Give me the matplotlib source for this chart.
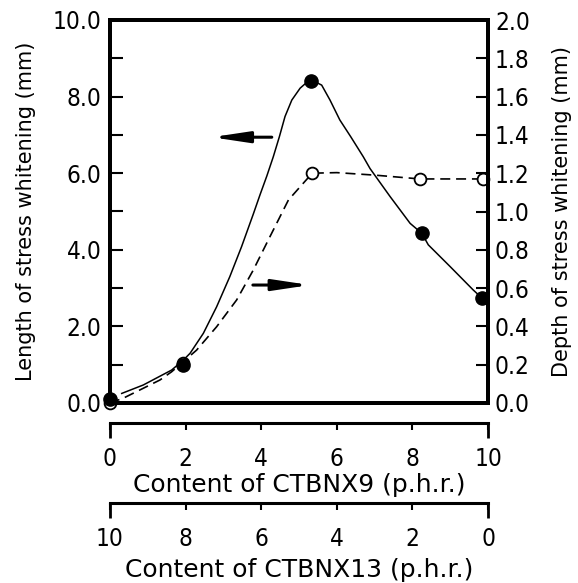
import numpy as np
import matplotlib
matplotlib.use('Agg')
import matplotlib.pyplot as plt
from matplotlib import font_manager as fm

# measured points (left axis: length, right axis: depth)
x_ctbnx9 = [0.0, 1.94, 5.32, 8.25, 9.83]
length_mm = [0.1, 1.0, 8.4, 4.43, 2.75]
x_depth = [0.0, 1.94, 5.35, 8.2, 9.88]
depth_mm = [0.0, 0.21, 1.2, 1.168, 1.172]

# hand drawn curves
solid_x = [0.31, 0.88, 1.63, 1.94, 2.12, 2.47, 2.82, 3.17, 3.48, 3.79, 3.97, 4.15, 4.32, 4.48,
           4.63, 4.81, 5.03, 5.18, 5.32, 5.46, 5.6, 5.82, 6.08, 6.37, 6.7, 6.88, 7.41, 7.94,
           8.25, 8.42, 9.0, 9.61, 9.83]
solid_y = [0.25, 0.47, 0.86, 1.12, 1.3, 1.82, 2.51, 3.3, 4.08, 4.93, 5.44, 5.93, 6.43, 6.95,
           7.48, 7.91, 8.22, 8.35, 8.4, 8.37, 8.3, 7.91, 7.39, 6.95, 6.43, 6.12, 5.39, 4.69,
           4.43, 4.13, 3.56, 2.95, 2.75]
dash_x = [0.0, 0.35, 1.32, 1.63, 2.29, 2.82, 3.35, 3.79, 4.23, 4.72, 5.07, 5.35, 6.0, 7.0,
          8.2, 9.0, 9.88]
dash_y = [0.0, 0.025, 0.12, 0.163, 0.276, 0.398, 0.538, 0.694, 0.868, 1.06, 1.138, 1.2,
          1.203, 1.19, 1.17, 1.17, 1.17]

ticks9 = [0, 2, 4, 6, 8, 10]
ticks13 = [10, 8, 6, 4, 2, 0]
left_ticks = [0.0, 2.0, 4.0, 6.0, 8.0, 10.0]
right_ticks = [0.0, 0.2, 0.4, 0.6, 0.8, 1.0, 1.2, 1.4, 1.6, 1.8, 2.0]

# narrow digits like the original if the condensed face is there
has_cond = any(f.name == 'DejaVu Sans' and f.stretch == 'condensed'
               for f in fm.fontManager.ttflist)
tkw = dict(fontstretch='condensed', fontsize=17.5) if has_cond else dict(fontsize=15.5)

W, H = 578, 583
fig = plt.figure(figsize=(W / 100, H / 100), dpi=100)
L, R, T, B = 110, 488, 20, 403

ax = fig.add_axes([L / W, 1 - B / H, (R - L) / W, (B - T) / H])
ax2 = ax.twinx()
ax.set_zorder(ax2.get_zorder() + 1)
ax.patch.set_visible(False)

ax.plot(solid_x, solid_y, color='black', lw=1.1)
ax.plot(x_ctbnx9, length_mm, 'o', color='black', ms=9.5, clip_on=False)
ax2.plot(dash_x, dash_y, color='black', lw=1.2, dashes=(6, 3.5))
ax2.plot(x_depth, depth_mm, 'o', mfc='white', mec='black', mew=1.3, ms=8.5, clip_on=False)

ax.set_xlim(0, 10)
ax.set_ylim(0, 10)
ax2.set_ylim(0, 2)
ax.set_xticks([])
ax.set_yticks(left_ticks)
ax.set_yticklabels(['%.1f' % v for v in left_ticks], **tkw)
ax.set_yticks(np.arange(1, 10, 2), minor=True)
ax.tick_params(axis='y', which='both', direction='in', length=9, width=1.5, pad=6)
ax2.set_yticks(right_ticks)
ax2.set_yticklabels(['%.1f' % v for v in right_ticks], **tkw)
ax2.tick_params(axis='y', direction='in', length=9, width=1.5, pad=5)
for a in (ax, ax2):
    for s in a.spines.values():
        s.set_linewidth(2.8)

ax.set_ylabel('Length of stress whitening (mm)', fontsize=15, labelpad=12)
ax2.set_ylabel('Depth of stress whitening (mm)', fontsize=15, labelpad=16)

ax.annotate('', xy=(2.69, 6.94), xytext=(4.28, 6.94),
            arrowprops=dict(arrowstyle='-|>,head_length=2.2,head_width=0.33',
                            lw=2.2, color='black', shrinkA=0, shrinkB=0))
ax.annotate('', xy=(5.29, 3.08), xytext=(3.78, 3.08),
            arrowprops=dict(arrowstyle='-|>,head_length=2.2,head_width=0.33',
                            lw=2.2, color='black', shrinkA=0, shrinkB=0))


def scale_axis(ypix, lims, ticks, label, lpad):
    a = fig.add_axes([L / W, 1 - ypix / H, (R - L) / W, 0.0001])
    a.patch.set_visible(False)
    for k in ('top', 'left', 'right'):
        a.spines[k].set_visible(False)
    a.spines['bottom'].set_linewidth(2.2)
    a.set_xlim(*lims)
    a.set_yticks([])
    a.set_xticks(ticks)
    a.set_xticklabels([str(t) for t in ticks], **tkw)
    a.set_xticks([lims[0], lims[1]], minor=True)
    a.xaxis.remove_overlapping_locs = False
    a.tick_params(axis='x', which='major', direction='out', length=5, width=1.5, pad=12)
    a.tick_params(axis='x', which='minor', direction='out', length=11, width=2)
    a.set_xlabel(label, fontsize=18, labelpad=lpad)
    return a


scale_axis(423, (0, 10), ticks9, 'Content of CTBNX9 (p.h.r.)', 2)
scale_axis(503, (10, 0), ticks13, 'Content of CTBNX13 (p.h.r.)', 5)

fig.savefig('out.png', dpi=100)
